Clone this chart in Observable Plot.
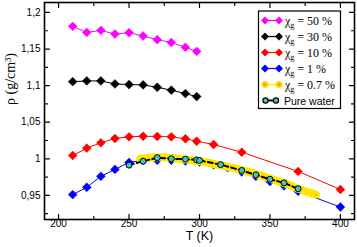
<!DOCTYPE html>
<html>
<head>
<meta charset="utf-8">
<script src="https://cdn.jsdelivr.net/npm/d3@7"></script>
<script src="https://cdn.jsdelivr.net/npm/@observablehq/plot@0.6"></script>
<style>
  html, body { margin: 0; padding: 0; background: #fff; }
  #chart svg { display: block; }
</style>
</head>
<body>
<div id="chart"></div>
<script>
// ---- data ----
const T50 = [210, 220, 230, 240, 250, 260, 270, 280, 290, 298];
const rho50 = [1.181, 1.1727, 1.1755, 1.1705, 1.1723, 1.1678, 1.1628, 1.159, 1.1523, 1.1468];

const T30 = [210, 220, 230, 240, 250, 260, 270, 280, 290, 298];
const rho30 = [1.1054, 1.1064, 1.1064, 1.1023, 1.1014, 1.101, 1.0977, 1.0938, 1.0891, 1.085];

const T10 = [210, 220, 230, 240, 250, 260, 270, 280, 290, 298, 310, 330, 370, 400];
const rho10 = [1.0045, 1.0145, 1.0218, 1.0277, 1.030, 1.0308, 1.0305, 1.030, 1.0273, 1.024, 1.0195, 1.009, 0.9827, 0.958];

const T1 = [210, 220, 230, 240, 250, 260, 270, 280, 290, 300, 310, 320, 330, 340, 350, 360, 370, 400];
const rho1 = [0.951, 0.961, 0.976, 0.9855, 0.995, 0.998, 0.998, 0.998, 0.997, 0.9955, 0.992, 0.988, 0.982, 0.976, 0.969, 0.963, 0.9555, 0.934];

const T07 = [258, 260, 262.5, 265, 267.5, 270, 272.5, 275, 277.5, 280, 282.5, 285, 287.5, 290, 292.5, 295, 297.5, 300,
  302.5, 305, 307.5, 310, 312.5, 315, 317.5, 320, 322.5, 325, 327.5, 330, 332.5, 335, 337.5, 340, 342.5, 345, 347.5, 350,
  352.5, 355, 357.5, 360, 362.5, 365, 367.5, 370, 372.5, 375, 377.5, 380, 382.5];
const rho07 = [1.000, 1.0005, 1.001, 1.0015, 1.0018, 1.002, 1.002, 1.002, 1.0015, 1.001, 1.0005, 1.000, 0.9995, 0.999, 0.9985, 0.998, 0.997, 0.9965,
  0.9958, 0.995, 0.994, 0.993, 0.992, 0.991, 0.990, 0.989, 0.988, 0.987, 0.9858, 0.9845, 0.9832, 0.982, 0.9806, 0.979, 0.9776, 0.976, 0.9745, 0.973,
  0.9713, 0.9697, 0.968, 0.967, 0.965, 0.963, 0.961, 0.959, 0.9575, 0.9558, 0.954, 0.9525, 0.951];

const Tw = [250, 260, 270, 280, 290, 298, 300, 315, 330, 340, 350, 360, 370];
const rhow = [0.9913, 0.9967, 1.0015, 1.0, 0.9995, 0.9985, 0.9977, 0.992, 0.984, 0.978, 0.972, 0.967, 0.959];

const xMajor = [200, 250, 300, 350, 400];
const xMinor = [225, 275, 325, 375];
const yMajor = [0.95, 1, 1.05, 1.1, 1.15, 1.2];
const yMinor = [0.925, 0.975, 1.025, 1.075, 1.125, 1.175];

const legendLabels = ["50 %", "30 %", "10 %", "1 %", "0.7 %", "Pure water"];
const colors = ["#ff00ff", "#000000", "#ff0000", "#0000ff", "#ffe600", "#000000"];

// ---- build tables ----
const zip = (T, R) => T.map((t, i) => ({T: t, rho: R[i]}));
const d50 = zip(T50, rho50), d30 = zip(T30, rho30), d10 = zip(T10, rho10),
      d1 = zip(T1, rho1), d07 = zip(T07, rho07), dw = zip(Tw, rhow);

const tickShape = {draw(ctx, l) { ctx.moveTo(0, 0); ctx.lineTo(0, -l); }};
const fmtY = d => String(+d.toFixed(2)).replace(".", ",");

const sans = "'Liberation Sans', Arial, sans-serif";
const serif = "'Liberation Serif', 'Times New Roman', serif";

function diamondSeries(data, color) {
  return [
    Plot.line(data, {x: "T", y: "rho", stroke: color, strokeWidth: 1}),
    Plot.dot(data, {x: "T", y: "rho", symbol: "diamond2", r: 4, fill: color, stroke: color, strokeWidth: 0.5})
  ];
}

const chart = Plot.plot({
  width: 357,
  height: 247,
  marginLeft: 44,
  marginRight: 3,
  marginTop: 2,
  marginBottom: 28,
  style: {fontFamily: sans, fontSize: "10px", background: "#fff"},
  x: {domain: [190, 410], axis: null},
  y: {domain: [0.917, 1.2136], axis: null},
  marks: [
    ...diamondSeries(d50, colors[0]),
    ...diamondSeries(d30, colors[1]),
    ...diamondSeries(d10, colors[2]),
    ...diamondSeries(d1, colors[3]),
    Plot.dot(d07, {x: "T", y: "rho", r: 2.6, fill: "#ffa500", stroke: "#ffe600", strokeWidth: 3}),
    Plot.line(dw, {x: "T", y: "rho", stroke: "black", strokeWidth: 2, strokeDasharray: "5,3"}),
    Plot.dot(dw, {x: "T", y: "rho", r: 3, fill: "#3cc8c0", stroke: "black", strokeWidth: 1}),
    // inward ticks
    Plot.vector(xMajor, {x: d => d, frameAnchor: "bottom", length: 5, rotate: 0, anchor: "start", shape: tickShape, stroke: "black", strokeWidth: 1.2}),
    Plot.vector(xMinor, {x: d => d, frameAnchor: "bottom", length: 3, rotate: 0, anchor: "start", shape: tickShape, stroke: "black", strokeWidth: 1.2}),
    Plot.vector(xMajor, {x: d => d, frameAnchor: "top", length: 5, rotate: 180, anchor: "start", shape: tickShape, stroke: "black", strokeWidth: 1.2}),
    Plot.vector(xMinor, {x: d => d, frameAnchor: "top", length: 3, rotate: 180, anchor: "start", shape: tickShape, stroke: "black", strokeWidth: 1.2}),
    Plot.vector(yMajor, {y: d => d, frameAnchor: "left", length: 5, rotate: 90, anchor: "start", shape: tickShape, stroke: "black", strokeWidth: 1.2}),
    Plot.vector(yMinor, {y: d => d, frameAnchor: "left", length: 3, rotate: 90, anchor: "start", shape: tickShape, stroke: "black", strokeWidth: 1.2}),
    Plot.vector(yMajor, {y: d => d, frameAnchor: "right", length: 5, rotate: -90, anchor: "start", shape: tickShape, stroke: "black", strokeWidth: 1.2}),
    Plot.vector(yMinor, {y: d => d, frameAnchor: "right", length: 3, rotate: -90, anchor: "start", shape: tickShape, stroke: "black", strokeWidth: 1.2}),
    // tick labels
    Plot.axisX({ticks: xMajor, tickSize: 0, tickPadding: 0, label: null, fontSize: 10, fill: "black"}),
    Plot.axisY({ticks: yMajor, tickSize: 0, tickPadding: 4, tickFormat: fmtY, label: null, fontSize: 10, fill: "black"}),
    Plot.frame({stroke: "black", strokeWidth: 1.6}),
    // axis titles
    Plot.text(["T (K)"], {text: d => d, frameAnchor: "bottom", dy: 20, fontSize: 12.5, fill: "black"}),
    Plot.text(["ρ (g/cm³)"], {text: d => d, frameAnchor: "left", dx: -34, dy: -6, rotate: -90, fontSize: 14, fontFamily: serif, fill: "black"})
  ]
});

document.getElementById("chart").appendChild(chart);

// ---- legend ----
const svg = d3.select(chart);
const lg = svg.append("g").attr("class", "legend").attr("text-anchor", "start");
lg.append("rect").attr("x", 258.5).attr("y", 11).attr("width", 82).attr("height", 97.5)
  .attr("fill", "white").attr("stroke", "black").attr("stroke-width", 1.2);
const diamond = d3.symbol(d3.symbolDiamond2, 40);
legendLabels.forEach((lab, i) => {
  const y = 20.5 + i * 16;
  const g = lg.append("g");
  if (i < 4) {
    g.append("line").attr("x1", 265).attr("x2", 279).attr("y1", y).attr("y2", y).attr("stroke", colors[i]).attr("stroke-width", 1.2);
    [265, 279].forEach(x => g.append("path").attr("d", diamond()).attr("transform", `translate(${x},${y})`).attr("fill", colors[i]));
  } else if (i === 4) {
    g.append("line").attr("x1", 265).attr("x2", 279).attr("y1", y).attr("y2", y).attr("stroke", "#ffe600").attr("stroke-width", 1.5);
    [265, 279].forEach(x => g.append("circle").attr("cx", x).attr("cy", y).attr("r", 2.8).attr("fill", "#ffa500").attr("stroke", "#ffe600").attr("stroke-width", 1.5));
  } else {
    g.append("line").attr("x1", 265.5).attr("x2", 276).attr("y1", y).attr("y2", y).attr("stroke", "black").attr("stroke-width", 2);
    [265.5, 276].forEach(x => g.append("circle").attr("cx", x).attr("cy", y).attr("r", 2.6).attr("fill", "#3cc8c0").attr("stroke", "black").attr("stroke-width", 1.2));
  }
  if (i < 5) {
    const t = g.append("text").attr("x", 285).attr("y", y + 4)
      .attr("text-anchor", "start")
      .attr("font-family", serif).attr("font-size", 12).attr("fill", "black");
    t.append("tspan").text("χ");
    t.append("tspan").attr("font-size", 8).attr("dy", 3).text("g");
    t.append("tspan").attr("dy", -3).text(" = " + lab);
  } else {
    g.append("text").attr("x", 284).attr("y", y + 4)
      .attr("text-anchor", "start")
      .attr("font-family", sans).attr("font-size", 10.5).attr("fill", "black").text(lab);
  }
});
</script>
</body>
</html>
